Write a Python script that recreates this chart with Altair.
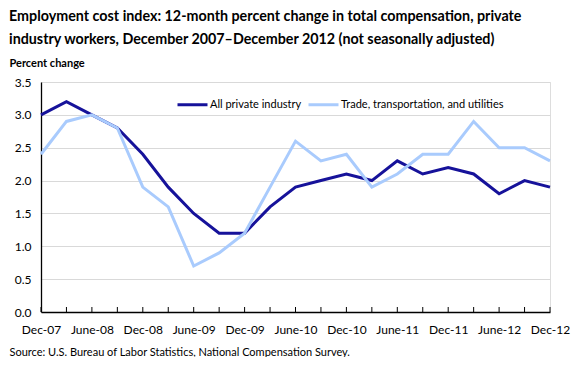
import altair as alt
import pandas as pd

quarters = ["Dec-07", "Mar-08", "June-08", "Sep-08", "Dec-08", "Mar-09", "June-09", "Sep-09",
            "Dec-09", "Mar-10", "June-10", "Sep-10", "Dec-10", "Mar-11", "June-11", "Sep-11",
            "Dec-11", "Mar-12", "June-12", "Sep-12", "Dec-12"]
all_private = [3.0, 3.2, 3.0, 2.8, 2.4, 1.9, 1.5, 1.2, 1.2, 1.6, 1.9, 2.0, 2.1, 2.0, 2.3, 2.1,
               2.2, 2.1, 1.8, 2.0, 1.9]
trade = [2.4, 2.9, 3.0, 2.8, 1.9, 1.6, 0.7, 0.9, 1.2, 1.9, 2.6, 2.3, 2.4, 1.9, 2.1, 2.4,
         2.4, 2.9, 2.5, 2.5, 2.3]
series_names = ["All private industry", "Trade, transportation, and utilities"]
series_colors = ["#16129a", "#a9cbfd"]

rows = []
for i, q in enumerate(quarters):
    rows.append({"idx": i, "q": q, "series": series_names[0], "value": all_private[i]})
    rows.append({"idx": i, "q": q, "series": series_names[1], "value": trade[i]})
df = pd.DataFrame(rows)
ticks_df = pd.DataFrame({"idx": list(range(len(quarters)))})

FONT = "Lato"
W, H = 509, 230

label_expr = "datum.value % 2 == 0 ? " + str(quarters) + "[datum.value] : ''"

xscale = alt.Scale(domain=[0, len(quarters) - 1], nice=False, zero=False)

lines = alt.Chart(df).mark_line(strokeWidth=3).encode(
    x=alt.X("idx:Q", scale=xscale,
            axis=alt.Axis(values=list(range(0, len(quarters), 2)), labelExpr=label_expr,
                          labelOverlap=False, labelFlush=False,
                          grid=False, ticks=False, domainColor="black", domainWidth=1.3,
                          labelFont=FONT, labelFontSize=12, labelColor="black", labelPadding=12,
                          title="Source: U.S. Bureau of Labor Statistics, National Compensation Survey.",
                          titleFont=FONT, titleFontSize=11, titleFontWeight="normal",
                          titleColor="black", titleAnchor="start", titleAlign="left",
                          titleBaseline="middle", titleX=-32, titleY=40)),
    y=alt.Y("value:Q", scale=alt.Scale(domain=[0, 3.5], nice=False),
            axis=alt.Axis(values=[0, 0.5, 1, 1.5, 2, 2.5, 3, 3.5], format=".1f",
                          ticks=False, domainColor="black", domainWidth=1.3,
                          gridColor="#d9d9d9", gridWidth=1,
                          labelFont=FONT, labelFontSize=12, labelColor="black", labelPadding=10,
                          title="Percent change", titleAngle=0, titleFont=FONT, titleFontSize=11,
                          titleFontWeight="bold", titleColor="black", titleAlign="left",
                          titleBaseline="middle", titleX=-32, titleY=-19)),
    color=alt.Color("series:N", scale=alt.Scale(domain=series_names, range=series_colors),
                    legend=alt.Legend(title=None, orient="none", legendX=135, legendY=6,
                                      direction="horizontal", symbolType="stroke",
                                      symbolStrokeWidth=3, symbolSize=900, columnPadding=0,
                                      labelFont=FONT, labelFontSize=11, labelColor="black",
                                      labelOffset=1, labelLimit=300)),
)

tick_marks = alt.Chart(ticks_df).mark_rule(color="black", strokeWidth=1).encode(
    x=alt.X("idx:Q", scale=xscale),
    y=alt.value(H),
    y2=alt.value(H - 5),
)

chart = alt.layer(lines, tick_marks).properties(
    width=W, height=H,
    autosize=alt.AutoSizeParams(type="none"),
    padding={"left": 33, "top": 74, "right": 22, "bottom": 45},
    title=alt.Title(
        text=["Employment cost index: 12-month percent change in total compensation, private",
              "industry workers, December 2007\u2013December 2012 (not seasonally adjusted)"],
        anchor="start", frame="group", dx=-32, dy=26, offset=22, font=FONT, fontSize=14.3,
        fontWeight="bold", color="black", lineHeight=23, baseline="bottom"),
).configure_view(stroke=None).configure(background="white")

chart.save("out.html", embed_options={"renderer": "svg", "actions": False})
